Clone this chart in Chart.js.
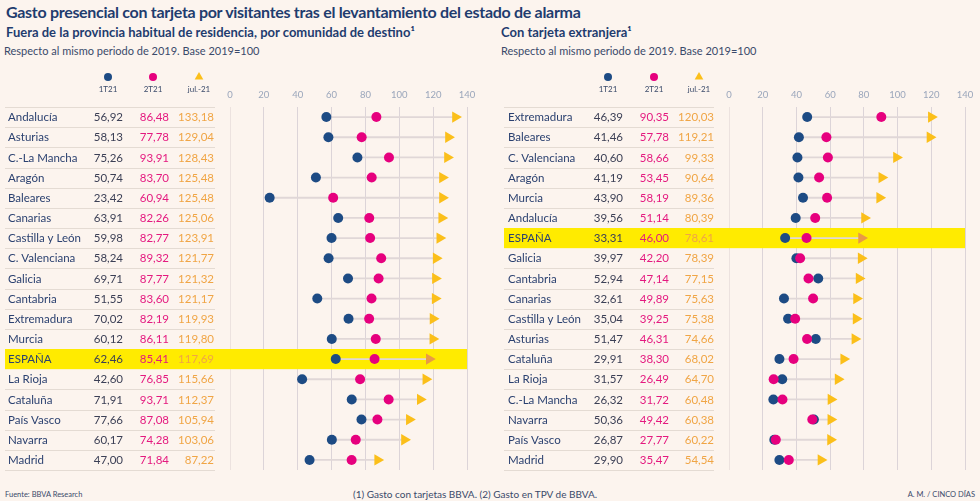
<!DOCTYPE html>
<html>
<head>
<meta charset="utf-8">
<script src="https://cdn.jsdelivr.net/npm/chart.js@4"></script>
<style>
  body { margin: 0; background: #fcf4ee; }
  #page { position: relative; width: 980px; height: 501px; background: #fcf4ee; font-family: Lato, "Open Sans", sans-serif; color: #1f3c6e; overflow: hidden; }
  .t { position: absolute; white-space: nowrap; }
  .box { position: absolute; top: 60px; width: 490px; height: 420px; }
</style>
</head>
<body>
<div id="page">
  <div class="t" style="left:6px; top:2px; font-size:16px; letter-spacing:-0.3px; font-weight:700;">Gasto presencial con tarjeta por visitantes tras el levantamiento del estado de alarma</div>
  <div class="t" style="left:6px; top:24px; font-size:13px; font-weight:700;">Fuera de la provincia habitual de residencia, por comunidad de destino¹</div>
  <div class="t" style="left:4px; top:44px; font-size:11px; color:#3a4a6a;">Respecto al mismo periodo de 2019. Base 2019=100</div>
  <div class="t" style="left:501px; top:24px; font-size:13px; font-weight:700;">Con tarjeta extranjera¹</div>
  <div class="t" style="left:501px; top:44px; font-size:11px; color:#3a4a6a;">Respecto al mismo periodo de 2019. Base 2019=100</div>

  <div class="box" style="left:0px;"><canvas id="chartLeft"></canvas></div>
  <div class="box" style="left:490px;"><canvas id="chartRight"></canvas></div>

  <div class="t" style="left:5px; top:490px; font-size:7.5px; color:#3a4a6a;">Fuente: BBVA Research</div>
  <div class="t" style="left:353px; top:488px; font-size:10px; color:#3a4a6a;">(1) Gasto con tarjetas BBVA. (2) Gasto en TPV de BBVA.</div>
  <div class="t" style="right:5px; top:490px; font-size:7.5px; color:#3a4a6a;">A. M. / CINCO DÍAS</div>
</div>

<script>
// columnas de la tabla
const headers = ["1T21", "2T21", "jul.-21"];
const axisTicks = [0, 20, 40, 60, 80, 100, 120, 140];

// Fuera de la provincia habitual de residencia
const leftRegions = ["Andalucía","Asturias","C.-La Mancha","Aragón","Baleares","Canarias","Castilla y León","C. Valenciana","Galicia","Cantabria","Extremadura","Murcia","ESPAÑA","La Rioja","Cataluña","País Vasco","Navarra","Madrid"];
const left1T21 = [56.92,58.13,75.26,50.74,23.42,63.91,59.98,58.24,69.71,51.55,70.02,60.12,62.46,42.60,71.91,77.66,60.17,47.00];
const left2T21 = [86.48,77.78,93.91,83.70,60.94,82.26,82.77,89.32,87.77,83.60,82.19,86.11,85.41,76.85,93.71,87.08,74.28,71.84];
const leftJul = [133.18,129.04,128.43,125.48,125.48,125.06,123.91,121.77,121.32,121.17,119.93,119.80,117.69,115.66,112.37,105.94,103.06,87.22];

// Con tarjeta extranjera
const rightRegions = ["Extremadura","Baleares","C. Valenciana","Aragón","Murcia","Andalucía","ESPAÑA","Galicia","Cantabria","Canarias","Castilla y León","Asturias","Cataluña","La Rioja","C.-La Mancha","Navarra","País Vasco","Madrid"];
const right1T21 = [46.39,41.46,40.60,41.19,43.90,39.56,33.31,39.97,52.94,32.61,35.04,51.47,29.91,31.57,26.32,50.36,26.87,29.90];
const right2T21 = [90.35,57.78,58.66,53.45,58.19,51.14,46.00,42.20,47.14,49.89,39.25,46.31,38.30,26.49,31.72,49.42,27.77,35.47];
const rightJul = [120.03,119.21,99.33,90.64,89.36,80.39,78.61,78.39,77.15,75.63,75.38,74.66,68.02,64.70,60.48,60.38,60.22,54.54];

const colBlue = "#1d4b84";
const colPink = "#e6007e";
const colYellow = "#fbbf1a";
const colJulText = "#f0a545";

function fmt(v) {
  return v.toFixed(2).replace(".", ",");
}

function makePanel(canvasId, regions, v1, v2, v3, g) {
  const julColors = regions.map(r => r === "ESPAÑA" ? "#e99a45" : colYellow);

  const tablePlugin = {
    id: "tabla_" + canvasId,
    beforeDatasetsDraw(chart) {
      const ctx = chart.ctx;
      const area = chart.chartArea;
      const yScale = chart.scales.y;
      const rowH = (area.bottom - area.top) / regions.length;
      ctx.save();

      // fila resaltada
      const iEsp = regions.indexOf("ESPAÑA");
      const yEsp = yScale.getPixelForValue(iEsp);
      ctx.fillStyle = "#ffeb00";
      ctx.fillRect(g.sepLeft, yEsp - rowH / 2, area.right - g.sepLeft, rowH);

      // separadores
      ctx.strokeStyle = "#e4dbd3";
      ctx.lineWidth = 1;
      for (let k = 0; k <= regions.length; k++) {
        const y = Math.round(area.top + k * rowH) + 0.5;
        if (k === iEsp || k === iEsp + 1) continue;
        ctx.beginPath();
        ctx.moveTo(g.sepLeft, y);
        ctx.lineTo(g.sepRight, y);
        ctx.stroke();
      }

      // textos de la tabla
      ctx.font = "11.5px Lato";
      ctx.textBaseline = "middle";
      regions.forEach((r, i) => {
        const y = yScale.getPixelForValue(i) + 0.5;
        ctx.textAlign = "left";
        ctx.fillStyle = "#2b4170";
        ctx.fillText(r, g.labelX, y);
        ctx.textAlign = "right";
        ctx.fillStyle = "#3b3f55";
        ctx.fillText(fmt(v1[i]), g.cols[0], y);
        ctx.fillStyle = "#e4197f";
        ctx.fillText(fmt(v2[i]), g.cols[1], y);
        ctx.fillStyle = colJulText;
        ctx.fillText(fmt(v3[i]), g.cols[2], y);
      });

      // cabecera con leyenda
      ctx.font = "8px Lato";
      ctx.textAlign = "center";
      const styles = [
        { pointStyle: "circle", radius: 4, rotation: 0, c: colBlue },
        { pointStyle: "circle", radius: 4, rotation: 0, c: colPink },
        { pointStyle: "triangle", radius: 5, rotation: 0, c: colYellow }
      ];
      headers.forEach((h, j) => {
        ctx.fillStyle = "#3a4a6a";
        ctx.fillText(h, g.heads[j], 29);
        ctx.fillStyle = styles[j].c;
        ctx.strokeStyle = styles[j].c;
        Chart.helpers.drawPoint(ctx, styles[j], g.heads[j], 17);
      });
      ctx.restore();
    }
  };

  return new Chart(document.getElementById(canvasId), {
    type: "bar",
    data: {
      labels: regions,
      datasets: [
        {
          type: "line",
          label: "2T21",
          data: v2,
          showLine: false,
          pointRadius: 5,
          pointBackgroundColor: colPink,
          pointBorderWidth: 0,
          order: 1
        },
        {
          type: "line",
          label: "1T21",
          data: v1,
          showLine: false,
          pointRadius: 5,
          pointBackgroundColor: colBlue,
          pointBorderWidth: 0,
          order: 2
        },
        {
          type: "line",
          label: "jul.-21",
          data: v3,
          showLine: false,
          pointStyle: "triangle",
          rotation: 90,
          pointRadius: 6.5,
          pointBackgroundColor: julColors,
          pointBorderWidth: 0,
          order: 0
        },
        {
          type: "bar",
          label: "rango",
          data: regions.map((r, i) => [Math.min(v1[i], v2[i]), v3[i]]),
          backgroundColor: "#e0d7d7",
          barThickness: 1.2,
          order: 5
        }
      ]
    },
    options: {
      indexAxis: "y",
      responsive: true,
      maintainAspectRatio: false,
      animation: false,
      events: [],
      layout: { padding: { left: g.padLeft, right: g.padRight, top: 27, bottom: 10 } },
      plugins: { legend: { display: false }, tooltip: { enabled: false } },
      scales: {
        x: {
          type: "linear",
          position: "top",
          min: axisTicks[0],
          max: axisTicks[axisTicks.length - 1],
          afterBuildTicks: (scale) => { scale.ticks = axisTicks.map(v => ({ value: v })); },
          afterFit: (scale) => { scale.height = 20; },
          border: { display: false },
          grid: {
            drawTicks: false,
            color: (c) => c.tick && c.tick.value === 0 ? "#ece2df" : "#dcd4d8",
            lineWidth: 1
          },
          ticks: { padding: 6, color: "#9aa6bb", font: { family: "Lato", size: 9.5 } }
        },
        y: {
          type: "category",
          offset: true,
          display: false
        }
      }
    },
    plugins: [tablePlugin]
  });
}

makePanel("chartLeft", leftRegions, left1T21, left2T21, leftJul, {
  padLeft: 230, padRight: 23, labelX: 8, cols: [123, 169, 214], heads: [108, 153, 199], sepLeft: 5, sepRight: 215
});
makePanel("chartRight", rightRegions, right1T21, right2T21, rightJul, {
  padLeft: 239, padRight: 15, labelX: 18, cols: [133, 179, 224], heads: [118, 164, 209], sepLeft: 14, sepRight: 224
});
</script>
</body>
</html>
